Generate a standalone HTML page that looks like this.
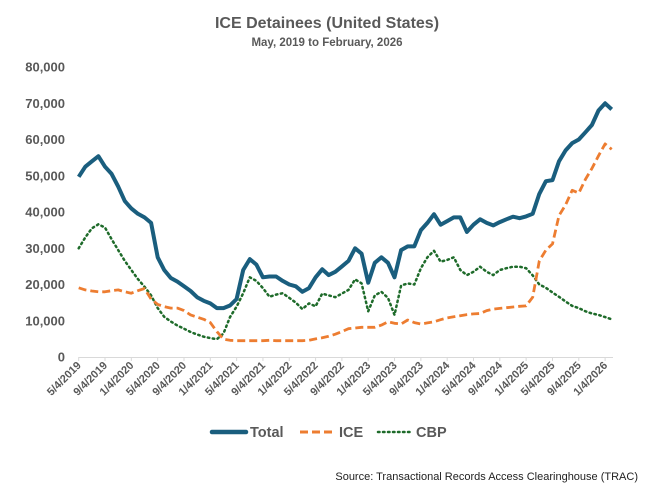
<!DOCTYPE html>
<html><head><meta charset="utf-8"><style>
body{margin:0;background:#fff;}
svg{display:block;font-family:"Liberation Sans",sans-serif;}
</style></head><body>
<svg id="chart" width="655" height="485" viewBox="0 0 655 485">
<rect width="655" height="485" fill="#fff"/>
<text x="327" y="28" text-anchor="middle" font-size="16" font-weight="bold" fill="#595959">ICE Detainees (United States)</text>
<text x="327" y="46" text-anchor="middle" font-size="11.5" font-weight="bold" fill="#595959">May, 2019 to February, 2026</text>
<g id="yaxis"></g>
<g id="xaxis"></g>
<g id="series"></g>
<g>
<g><line x1="212" y1="432" x2="246" y2="432" stroke="#1a5e7e" stroke-width="4.5" stroke-linecap="round"/><text x="250" y="437" font-size="14.5" font-weight="bold" fill="#595959">Total</text></g>
<g><line x1="300" y1="432" x2="333" y2="432" stroke="#ed7d31" stroke-width="3" stroke-dasharray="8,4"/><text x="339" y="437" font-size="14.5" font-weight="bold" fill="#595959">ICE</text></g>
<g><line x1="378" y1="432" x2="410" y2="432" stroke="#1e6b2a" stroke-width="2.5" stroke-dasharray="1.5,3.5" stroke-linecap="round"/><text x="416" y="437" font-size="14.5" font-weight="bold" fill="#595959">CBP</text></g>
</g>
<text x="638" y="480" text-anchor="end" font-size="11" fill="#222">Source: Transactional Records Access Clearinghouse (TRAC)</text>
</svg>
<script>
const yTicks=[0,10000,20000,30000,40000,50000,60000,70000,80000];
const xTickLabels=["5/4/2019","9/4/2019","1/4/2020","5/4/2020","9/4/2020","1/4/2021","5/4/2021","9/4/2021","1/4/2022","5/4/2022","9/4/2022","1/4/2023","5/4/2023","9/4/2023","1/4/2024","5/4/2024","9/4/2024","1/4/2025","5/4/2025","9/4/2025","1/4/2026"];
const totalValues=[49.7,52.5,54,55.4,52.5,50.5,47,43,41,39.5,38.5,37,27.5,24,21.8,20.8,19.5,18.2,16.5,15.5,14.8,13.5,13.5,14.2,16,24,27,25.5,22,22.2,22.2,21,20,19.5,18,19,22,24.2,22.6,23.5,25,26.5,30,28.5,20.5,26,27.5,26,22,29.5,30.5,30.5,35,37,39.4,36.5,37.5,38.5,38.5,34.5,36.5,38,37,36.3,37.2,38,38.7,38.3,38.8,39.5,45,48.5,48.8,54,57,59,60,62,64,68,70,68.3];
const iceValues=[19.1,18.5,18.2,18,18,18.3,18.5,18,17.6,18.3,18.9,16,14.5,13.9,13.5,13.5,12.8,11.6,11,10.4,9.5,7,4.9,4.6,4.5,4.5,4.5,4.5,4.5,4.6,4.5,4.5,4.5,4.5,4.5,4.6,5,5.3,5.7,6.3,7,7.8,8,8.2,8.2,8.2,8.8,9.7,9.3,9.1,10.2,9.5,9.1,9.4,9.7,10.3,10.8,11.1,11.4,11.7,11.9,12,12.8,13.2,13.4,13.6,13.8,14,14.1,16.5,26.5,29.5,31.2,39,42,46,45.2,49,52,55.5,58.8,57.3];
const cbpValues=[30,33,35.5,36.6,35.7,32.5,29.5,26.5,24,21.5,19.4,17,13.5,11.1,9.8,8.7,7.8,6.9,6.2,5.6,5.2,4.9,6.5,11,13.9,17.6,22,21,19,16.6,17.2,17.6,16.3,15,13.2,14.8,14,17.5,17,16.5,17.5,18.5,21.4,20.3,12.6,17,18,16.3,11.6,19.7,20.3,20,24.5,27.5,29.3,26.3,26.8,27.5,24,22.6,23.5,24.9,23.5,22.6,24,24.5,24.9,24.9,24.5,22.5,20,19.1,17.8,16.6,15.3,14.1,13.5,12.6,12,11.6,11,10.4];

const NS="http://www.w3.org/2000/svg";
const X0=78.7,PX_PER_MONTH=6.58,Y0=357,PX_PER_K=3.625;
function xs(m){return X0+m*PX_PER_MONTH;}
function ys(v){return Y0-v/1000*PX_PER_K;}
function mk(tag,attrs,parent){const e=document.createElementNS(NS,tag);for(const k in attrs)e.setAttribute(k,attrs[k]);parent.appendChild(e);return e;}
const ya=document.getElementById('yaxis'),xa=document.getElementById('xaxis'),sg=document.getElementById('series');
yTicks.forEach(v=>{
  const t=mk('text',{x:65,y:ys(v)+4.5,'text-anchor':'end','font-size':13,'font-weight':'bold',fill:'#595959'},ya);
  
  
  t.textContent=v.toLocaleString('en-US');
});
const axl=mk('line',{x1:X0,y1:Y0+0.5,x2:613,y2:Y0+0.5,stroke:'#d9d9d9','stroke-width':1},xa);


xTickLabels.forEach((lab,i)=>{
  const x=xs(i*4);
  const tk=mk('line',{x1:x,y1:Y0,x2:x,y2:Y0+4,stroke:'#d9d9d9'},xa);
  
  
  const t=mk('text',{x:x+3,y:Y0+9,'text-anchor':'end','font-size':11,'font-weight':'bold',fill:'#595959',transform:`rotate(-45 ${x+3} ${Y0+9})`},xa);
  
  
  t.textContent=lab;
});
function line(vals,attrs,name){
  const d=vals.map((v,i)=>(i?'L':'M')+xs(i).toFixed(1)+' '+ys(v*1000).toFixed(1)).join(' ');
  const p=mk('path',Object.assign({d:d,fill:'none','stroke-linejoin':'round'},attrs),sg);
  
  
}
line(cbpValues,{stroke:'#1e6b2a','stroke-width':2.5,'stroke-dasharray':'1.5,3.5','stroke-linecap':'round'},'cbp-line');
line(iceValues,{stroke:'#ed7d31','stroke-width':2.8,'stroke-dasharray':'8,4'},'ice-line');
line(totalValues,{stroke:'#1a5e7e','stroke-width':4},'total-line');
</script>
</body></html>
